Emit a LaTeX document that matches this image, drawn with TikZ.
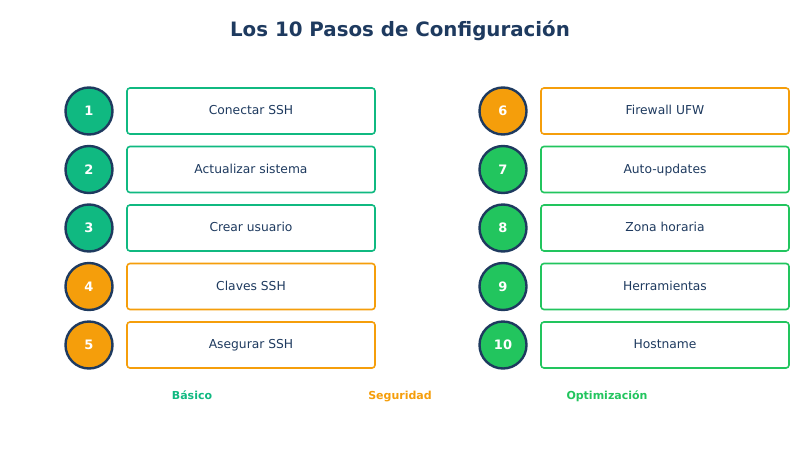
\documentclass[tikz,border=0pt]{standalone}
\usepackage{fontspec}
\setmainfont{DejaVu Sans}
\definecolor{navy}{HTML}{1E3A5F}
\definecolor{teal}{HTML}{10B981}
\definecolor{orng}{HTML}{F59E0B}
\definecolor{grn}{HTML}{22C55E}
\tikzset{
  numc/.style={circle, draw=navy, line width=2.4pt, minimum size=47pt, inner sep=0pt, text=white, font=\fontsize{13}{15}\selectfont\bfseries},
  stepbox/.style={draw, rounded corners=3pt, line width=1.6pt, minimum width=248pt, minimum height=46pt, inner sep=0pt, text height=0.73em, text depth=0em, text=navy, font=\fontsize{12.3}{14}\selectfont},
  legend/.style={inner sep=0pt, text height=0.73em, text depth=0em, font=\fontsize{11}{13}\selectfont\bfseries}
}
\begin{document}
\begin{tikzpicture}[x=1pt,y=-1pt]
\useasboundingbox[fill=white] (0,0) rectangle (800,450);
\node[font=\fontsize{19.8}{23}\selectfont\bfseries, text=navy] (title) at (400,31) {Los 10 Pasos de Configuración};
% left column
\node[numc, fill=teal] (c1) at (89,111) {1};
\node[stepbox, draw=teal] (b1) at (251,111) {Conectar SSH};
\node[numc, fill=teal] (c2) at (89,169.5) {2};
\node[stepbox, draw=teal] (b2) at (251,169.5) {Actualizar sistema};
\node[numc, fill=teal] (c3) at (89,228) {3};
\node[stepbox, draw=teal] (b3) at (251,228) {Crear usuario};
\node[numc, fill=orng] (c4) at (89,286.5) {4};
\node[stepbox, draw=orng] (b4) at (251,286.5) {Claves SSH};
\node[numc, fill=orng] (c5) at (89,345) {5};
\node[stepbox, draw=orng] (b5) at (251,345) {Asegurar SSH};
% right column
\node[numc, fill=orng] (c6) at (503,111) {6};
\node[stepbox, draw=orng] (b6) at (665,111) {Firewall UFW};
\node[numc, fill=grn] (c7) at (503,169.5) {7};
\node[stepbox, draw=grn] (b7) at (665,169.5) {Auto-updates};
\node[numc, fill=grn] (c8) at (503,228) {8};
\node[stepbox, draw=grn] (b8) at (665,228) {Zona horaria};
\node[numc, fill=grn] (c9) at (503,286.5) {9};
\node[stepbox, draw=grn] (b9) at (665,286.5) {Herramientas};
\node[numc, fill=grn] (c10) at (503,345) {10};
\node[stepbox, draw=grn] (b10) at (665,345) {Hostname};
% legend
\node[legend, text=teal] (l1) at (192,396) {Básico};
\node[legend, text=orng] (l2) at (400,396) {Seguridad};
\node[legend, text=grn] (l3) at (607,396) {Optimización};
\end{tikzpicture}
\end{document}
